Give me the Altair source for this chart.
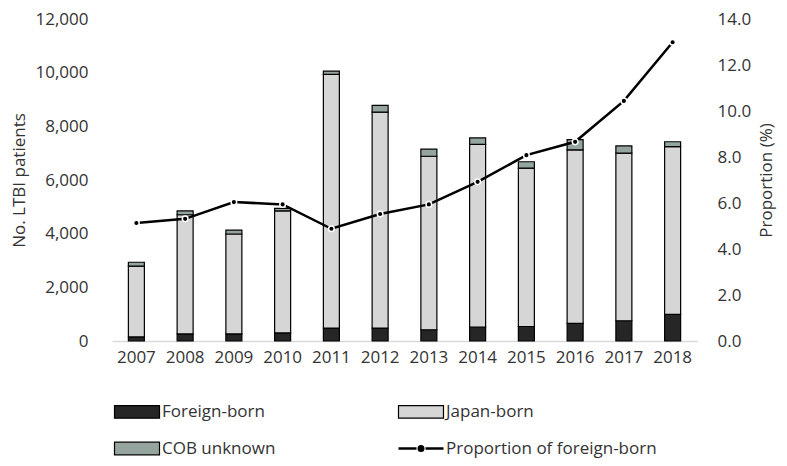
import altair as alt
import pandas as pd

years = ["2007", "2008", "2009", "2010", "2011", "2012", "2013", "2014", "2015", "2016", "2017", "2018"]
foreign_born = [150, 265, 265, 300, 480, 480, 420, 517, 540, 660, 755, 995]
japan_born = [2640, 4440, 3722, 4550, 9457, 8047, 6466, 6811, 5904, 6466, 6249, 6250]
cob_unknown = [145, 145, 143, 96, 120, 251, 262, 240, 237, 382, 266, 180]
proportion_foreign = [5.13, 5.31, 6.04, 5.94, 4.88, 5.52, 5.94, 6.92, 8.08, 8.66, 10.44, 12.99]

series = ["Foreign-born", "Japan-born", "COB unknown", "Proportion of foreign-born"]
series_colors = ["#262626", "#d6d6d6", "#95a59d", "#000000"]

rows = []
for i, y in enumerate(years):
    for k, (name, vals) in enumerate(zip(series[:3], [foreign_born, japan_born, cob_unknown])):
        rows.append({"year": y, "series": name, "count": vals[i], "k": k})
bars_df = pd.DataFrame(rows)
line_df = pd.DataFrame({"year": years, "prop": proportion_foreign})

FONT = "Open Sans"
TXT = "#333333"

line_sym = "M-1,0H-0.2M0.2,0H1M0.1,0A0.1,0.1 0 1 1 -0.1,0A0.1,0.1 0 1 1 0.1,0"
box_sym = "M-1,-0.28H1V0.28H-1Z"

x_enc = alt.X("year:N", sort=years, title=None,
              scale=alt.Scale(paddingInner=0.0, paddingOuter=0.0),
              axis=alt.Axis(labelAngle=0, ticks=False, domainColor="#d9d9d9", domainWidth=1.5,
                            labelFont=FONT, labelFontSize=17, labelColor=TXT, labelPadding=8))

bars = alt.Chart(bars_df).mark_bar(size=16, stroke="black", strokeWidth=1.2).encode(
    x=x_enc,
    y=alt.Y("sum(count):Q", title="No. LTBI patients",
            scale=alt.Scale(domain=[0, 12000], nice=False),
            axis=alt.Axis(values=list(range(0, 12001, 2000)), format=",.0f", grid=False, domain=False,
                          ticks=False, labelPadding=24, labelFont=FONT, labelFontSize=17,
                          labelColor=TXT, titleFont=FONT, titleFontSize=17, titleFontWeight="normal",
                          titleColor=TXT, titlePadding=6)),
    color=alt.Color("series:N", scale=alt.Scale(domain=series, range=series_colors),
                    legend=alt.Legend(orient="none", legendX=16.5, legendY=384, columns=2,
                                      direction="horizontal",
                                      columnPadding=118, rowPadding=18, title=None,
                                      symbolType={"expr": f"datum.value == 'Proportion of foreign-born' ? '{line_sym}' : '{box_sym}'"},
                                      symbolSize=2025, symbolStrokeColor="black",
                                      symbolStrokeWidth={"expr": "datum.value == 'Proportion of foreign-born' ? 2.5 : 1.2"},
                                      symbolOpacity=1,
                                      labelFont=FONT, labelFontSize=17, labelColor=TXT, labelOffset=16.5,
                                      labelLimit=300)),
    order=alt.Order("k:Q", sort="ascending"),
)

prop_y = alt.Y("prop:Q", title="Proportion (%)",
               scale=alt.Scale(domain=[0, 14], nice=False),
               axis=alt.Axis(orient="right", values=list(range(0, 15, 2)), format=".1f", grid=False,
                             domain=False, ticks=False, labelPadding=20, labelFont=FONT,
                             labelFontSize=17, labelColor=TXT, titleFont=FONT, titleFontSize=17,
                             titleFontWeight="normal", titleColor=TXT, titleAngle=270,
                             titleBaseline="top", titlePadding=8))

line = alt.Chart(line_df).mark_line(color="black", strokeWidth=2.5).encode(x=x_enc, y=prop_y)
pts = alt.Chart(line_df).mark_circle(size=32, color="black", stroke="white", strokeWidth=1.5,
                                     opacity=1).encode(x=x_enc, y=prop_y)

right = alt.layer(line, pts)

chart = alt.layer(bars, right).resolve_scale(y="independent").properties(
    width=585, height=322,
    autosize=alt.AutoSizeParams(type="none"),
    padding={"left": 104, "top": 11, "right": 82, "bottom": 117},
).configure_view(stroke=None)

chart.save("out.html", embed_options={"renderer": "svg", "actions": False})
